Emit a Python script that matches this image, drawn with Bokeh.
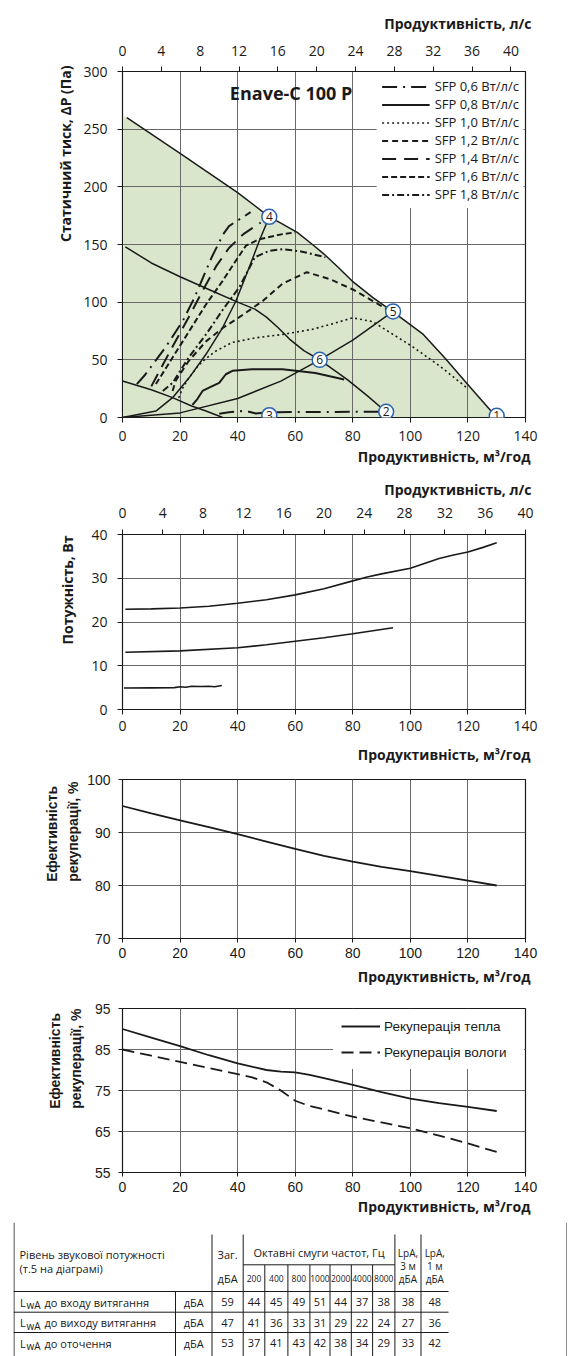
from bokeh.plotting import figure
from bokeh.models import Range1d, LinearAxis, Title, Legend, LegendItem, FixedTicker, Label
from bokeh.layouts import column, row
from bokeh.embed import file_html
from bokeh.resources import INLINE
from bokeh.core.properties import value

# ---------------- DATA ----------------
flow_ticks = [0, 20, 40, 60, 80, 100, 120, 140]
ls_ticks = [0, 4, 8, 12, 16, 20, 24, 28, 32, 36, 40]
pressure_ticks = [0, 50, 100, 150, 200, 250, 300]
power_ticks = [0, 10, 20, 30, 40]
eff_ticks = [70, 80, 90, 100]
rec_ticks = [55, 65, 75, 85, 95]

# chart 1: static pressure (Pa) vs flow (m3/h)
max_x = [0, 1.5, 20, 40, 51, 55, 60.7, 66, 70, 75, 79.7, 87, 94, 104.5, 112, 119.5, 130]
max_y = [262, 260, 229, 195, 174, 168.5, 160.5, 150, 141.7, 130, 118.5, 104, 91.6, 72, 51.5, 30, 0]
mid_x = [1, 10, 20, 30, 40, 46, 50, 54, 58, 63, 68.5, 78, 85, 91.5]
mid_y = [148, 134, 122, 111, 100, 94, 87, 78, 68, 58, 50, 33, 19, 5]
low_x = [0, 10, 17.4, 24, 29, 34.8]
low_y = [31.7, 24, 17.2, 10, 5.6, 0]
sys_a_x = [0, 11.6, 17.4, 23.2, 29, 34.8, 39.4, 44, 47.5, 51]
sys_a_y = [0, 5.6, 17.2, 34.6, 54.8, 78, 101, 130, 153, 174]
sys_b_x = [0, 20, 40, 55, 68.5, 80, 94]
sys_b_y = [0, 4, 16.5, 31.5, 50, 67, 92]
sfp06_x = [33.6, 37, 40.6, 44, 46.3, 51, 60, 70, 80, 91.5]
sfp06_y = [3.3, 4.5, 5.6, 5, 3.5, 4.5, 4.7, 4.7, 4.9, 5]
sfp08_x = [24.3, 26, 27.8, 31, 33.6, 35.9, 38.2, 45, 55.6, 67, 77]
sfp08_y = [11, 16, 23, 27, 30, 37.5, 40.5, 41.8, 41.8, 38.5, 33]
sfp10_x = [19.5, 21, 23, 26, 28, 32, 38, 46, 55.6, 66, 74, 80, 87, 94, 101, 110, 119.5]
sfp10_y = [17, 26, 34, 44, 49, 57, 65, 69, 72, 76.5, 82, 86.5, 83, 72, 61, 45, 26]
sfp12_x = [17.4, 18.5, 23, 29, 35, 40.6, 48.7, 55.6, 64, 72, 80, 87, 93]
sfp12_y = [23, 32, 49, 66, 78, 87, 101, 116, 126, 120, 111, 101, 92]
sfp14_x = [10, 16, 23, 28.5, 32.5, 37, 42, 48]
sfp14_y = [27, 55, 87, 113, 131, 147, 159, 169]
sfp16_x = [11.6, 17.4, 23.2, 29, 34.8, 39.4, 42.9, 47.5, 55.6, 60]
sfp16_y = [29, 52, 75, 98, 118.5, 136, 149, 154.6, 159, 160.5]
sfp18_x = [14, 17.4, 23, 29, 35, 40.6, 46, 51, 55.6, 62, 70.5]
sfp18_y = [23, 30, 52, 72, 94, 113, 139, 144.5, 146, 144, 139]
sfp18b_x = [5, 8, 15, 21, 25, 31, 35, 37, 44.5]
sfp18b_y = [29, 37.5, 61, 84, 104, 139, 159, 166, 178]
pt_x = [130, 91.6, 51, 51, 94, 68.5]
pt_y = [1.5, 5, 2, 174, 92, 50]
pt_lbl = ["1", "2", "3", "4", "5", "6"]
sfp_labels = ["SFP 0,6 Вт/л/с", "SFP 0,8 Вт/л/с", "SFP 1,0 Вт/л/с", "SFP 1,2 Вт/л/с",
              "SFP 1,4 Вт/л/с", "SFP 1,6 Вт/л/с", "SPF 1,8 Вт/л/с"]

# chart 2: power (W)
pw_a_x = [1, 10, 20, 30, 40, 50, 60, 70, 80, 85, 90, 100, 110, 115, 120, 125, 130]
pw_a_y = [22.9, 23, 23.2, 23.6, 24.3, 25.1, 26.2, 27.6, 29.4, 30.3, 31, 32.3, 34.5, 35.3, 36, 37, 38.1]
pw_b_x = [1, 20, 40, 50, 60, 70, 80, 94]
pw_b_y = [13.1, 13.4, 14.1, 14.8, 15.6, 16.4, 17.3, 18.7]
pw_c_x = [0.5, 10, 18, 20, 22, 24, 27, 30, 32, 34.5]
pw_c_y = [4.9, 4.95, 5.0, 5.2, 5.1, 5.3, 5.25, 5.3, 5.2, 5.5]

# chart 3: recovery efficiency (%)
eff_x = [0, 10, 20, 30, 40, 50, 60, 70, 80, 90, 100, 110, 120, 130]
eff_y = [95, 93.6, 92.3, 91, 89.7, 88.3, 86.9, 85.6, 84.5, 83.5, 82.7, 81.8, 80.9, 80]

# chart 4: heat / moisture recovery (%)
heat_x = [0, 10, 20, 30, 40, 50, 55, 60, 65, 70, 80, 90, 100, 110, 120, 130]
heat_y = [90, 87.9, 85.8, 83.6, 81.6, 80, 79.6, 79.4, 78.8, 78, 76.4, 74.6, 73, 71.9, 71, 70]
moist_x = [0, 10, 20, 30, 40, 45, 50, 55, 60, 65, 70, 80, 90, 100, 110, 120, 130]
moist_y = [85, 83.5, 82, 80.5, 79, 78.2, 77, 75, 72.5, 71.2, 70.4, 68.6, 67.2, 65.8, 64, 62.1, 60]
rec_labels = ["Рекуперація тепла", "Рекуперація вологи"]

# table
tbl_title = ["Рівень звукової потужності", "(т.5 на діаграмі)"]
tbl_rows = ["до входу витягання", "до виходу витягання", "до оточення"]
tbl_unit = "дБА"
tbl_total = [59, 47, 53]
tbl_bands = ["200", "400", "800", "1000", "2000", "4000", "8000"]
tbl_band_vals = [[44, 45, 49, 51, 44, 37, 38],
                 [41, 36, 33, 31, 29, 22, 24],
                 [37, 41, 43, 42, 38, 34, 29]]
tbl_lpa3 = [38, 27, 33]
tbl_lpa1 = [48, 36, 42]

# ---------------- STYLE ----------------
MY = "Open Sans"
AR = "Liberation Sans"
GRID = "#686868"
INK = "#1a1a1a"
GREEN = "#dae6cc"
BLUE = "#2a64b0"
FRAME_W = 403
PAGE_X0 = 13          # left edge of every figure on the page
FRAME_X0 = 122        # left edge of every chart frame on the page


def style_axis(ax, font, fsize, standoff, tick_out):
    ax.major_label_text_font = font
    ax.major_label_text_font_size = fsize
    ax.major_label_text_color = INK
    ax.axis_line_color = INK
    ax.major_tick_line_color = INK
    ax.major_tick_out = tick_out
    ax.major_tick_in = 0
    ax.minor_tick_line_color = None
    ax.major_label_standoff = standoff


def make_fig(fh, top, bottom, yr, yticks, font, fsize, xstand, ystand, tick_out):
    p = figure(frame_width=FRAME_W, frame_height=fh, min_border_left=FRAME_X0 - PAGE_X0,
               min_border_right=42, min_border_top=top, min_border_bottom=bottom,
               x_range=Range1d(0, 140), y_range=Range1d(*yr),
               output_backend="svg", toolbar_location=None)
    p.outline_line_color = INK
    p.outline_line_width = 1.2
    p.border_fill_color = "white"
    p.background_fill_color = "white"
    p.xaxis.ticker = FixedTicker(ticks=flow_ticks)
    p.yaxis.ticker = FixedTicker(ticks=yticks)
    p.xgrid.ticker = FixedTicker(ticks=flow_ticks)
    p.ygrid.ticker = FixedTicker(ticks=yticks)
    for g in (p.xgrid, p.ygrid):
        g.grid_line_color = GRID
        g.grid_line_width = 1
    style_axis(p.xaxis[0], font, fsize, xstand, tick_out)
    style_axis(p.yaxis[0], font, fsize, ystand, tick_out)
    return p


def page_borders(p, fig_top, fig_h, frame_top, fh, yr):
    """Thin vertical page-frame lines at the page's left and right edges (outside the frame)."""
    sx = FRAME_W / 140.0
    sy = fh / float(yr[1] - yr[0])
    yc = yr[0] + (frame_top + fh - (fig_top + fig_h / 2.0)) / sy
    for a in (13.5, 566.5):
        p.add_layout(Label(x=(a - FRAME_X0) / sx, y=yc, text=".", text_font_size="1px",
                           text_color=INK, text_align="center", text_baseline="middle",
                           background_fill_color=INK, border_line_color=INK,
                           border_line_width=1, padding=(0, int(fig_h / 2) + 2)))


def add_title(p, text, side, font, size, standoff, offset=0, lh=1.2):
    t = Title(text=text, align="right", text_font=font, text_font_style="bold",
              text_font_size=size, text_color=INK, standoff=standoff, offset=offset,
              text_line_height=lh)
    p.add_layout(t, side)


FLOW_LS = "Продуктивність, л/с"
FLOW_M3 = "Продуктивність, м³/год"

# ---------------- CHART 1 ----------------
p1 = make_fig(346, 71, 52, (0, 300), pressure_ticks, MY, "14px", 8, 10, 5)
p1.extra_x_ranges = {"ls": Range1d(0, 41.5)}
ax_top = LinearAxis(x_range_name="ls", ticker=FixedTicker(ticks=ls_ticks))
style_axis(ax_top, MY, "14px", 11, 5)
p1.add_layout(ax_top, "above")
add_title(p1, FLOW_LS, "above", MY, "14px", 20, offset=-6)
add_title(p1, FLOW_M3, "below", MY, "14px", 2, offset=-5)
add_title(p1, "Статичний тиск, ΔP (Па)", "left", MY, "14px", 12, offset=-6)
page_borders(p1, 0, 469, 71, 346, (0, 300))

p1.varea(x=max_x, y1=0, y2=max_y, fill_color=GREEN, level="image")
p1.line(max_x[1:], max_y[1:], line_color=INK, line_width=1.5)
p1.line(mid_x, mid_y, line_color=INK, line_width=1.5)
p1.line(low_x, low_y, line_color=INK, line_width=1.5)
p1.line(sys_a_x, sys_a_y, line_color=INK, line_width=1.5)
p1.line(sys_b_x, sys_b_y, line_color=INK, line_width=1.5)
r06 = p1.line(sfp06_x, sfp06_y, line_color=INK, line_width=2, line_dash="15 6 2 6")
r08 = p1.line(sfp08_x, sfp08_y, line_color=INK, line_width=2)
r10 = p1.line(sfp10_x, sfp10_y, line_color=INK, line_width=1.6, line_dash="2 3")
r12 = p1.line(sfp12_x, sfp12_y, line_color=INK, line_width=2, line_dash="6 4")
r14 = p1.line(sfp14_x, sfp14_y, line_color=INK, line_width=2, line_dash="14 8")
r16 = p1.line(sfp16_x, sfp16_y, line_color=INK, line_width=2, line_dash="6 3")
r18 = p1.line(sfp18_x, sfp18_y, line_color=INK, line_width=2, line_dash="7 3 2 3")
p1.line(sfp18b_x, sfp18b_y, line_color=INK, line_width=2, line_dash="15 6 2 6")

for xx, yy, tt in zip(pt_x, pt_y, pt_lbl):
    p1.add_layout(Label(x=xx, y=yy, text=tt, text_align="center", text_baseline="middle",
                        text_font=MY, text_font_size="12px", text_color=INK,
                        background_fill_color="white", border_line_color=BLUE,
                        border_line_width=1.5, border_radius=8, padding=(4, 3)))

p1.add_layout(Label(x=37.3, y=281, text="Enave-C 100 P", text_font=MY, text_font_style="bold",
                    text_font_size="18px", text_baseline="middle", text_color=INK))

leg1 = Legend(items=[LegendItem(label=l, renderers=[r]) for l, r in
                     zip(sfp_labels, [r06, r08, r10, r12, r14, r16, r18])],
              location="top_right", margin=1, padding=5, spacing=0,
              glyph_width=48, glyph_height=17, label_height=17, label_standoff=5,
              label_text_font=MY, label_text_font_size="13px", label_text_color=INK,
              border_line_alpha=0, background_fill_color="white", background_fill_alpha=1)
p1.add_layout(leg1)

# ---------------- CHART 2 ----------------
p2 = make_fig(175, 65, 63, (0, 40), power_ticks, MY, "14px", 6, 10, 5)
p2.extra_x_ranges = {"ls": Range1d(0, 40)}
ax_top2 = LinearAxis(x_range_name="ls", ticker=FixedTicker(ticks=ls_ticks))
style_axis(ax_top2, MY, "14px", 12, 5)
p2.add_layout(ax_top2, "above")
add_title(p2, FLOW_LS, "above", MY, "14px", 12, offset=-6)
add_title(p2, FLOW_M3, "below", MY, "14px", 19, offset=-5)
add_title(p2, "Потужність, Вт", "left", MY, "14px", 24, offset=1)
page_borders(p2, 469, 303, 534, 175, (0, 40))
p2.line(pw_a_x, pw_a_y, line_color=INK, line_width=1.6)
p2.line(pw_b_x, pw_b_y, line_color=INK, line_width=1.6)
p2.line(pw_c_x, pw_c_y, line_color=INK, line_width=1.6)

# ---------------- CHART 3 ----------------
p3 = make_fig(159, 6, 60, (70, 100), eff_ticks, AR, "14px", 5, 8, 4)
add_title(p3, FLOW_M3, "below", MY, "14px", 8, offset=-5)
add_title(p3, "Ефективність\nрекуперації, %", "left", AR, "14px", 7, offset=2, lh=1.3)
page_borders(p3, 772, 225, 778, 159, (70, 100))
p3.line(eff_x, eff_y, line_color=INK, line_width=1.8)

# ---------------- CHART 4 ----------------
p4 = make_fig(164, 10, 50, (55, 95), rec_ticks, AR, "14px", 5, 8, 4)
add_title(p4, FLOW_M3, "below", MY, "14px", 0, offset=-5)
add_title(p4, "Ефективність\nрекуперації, %", "left", AR, "14px", 15, offset=0, lh=1.3)
page_borders(p4, 997, 224, 1007, 164, (55, 95))
rh = p4.line(heat_x, heat_y, line_color=INK, line_width=1.8)
rm = p4.line(moist_x, moist_y, line_color=INK, line_width=1.8, line_dash="12 6")
leg4 = Legend(items=[LegendItem(label=rec_labels[0], renderers=[rh]),
                     LegendItem(label=rec_labels[1], renderers=[rm])],
              location="top_right", margin=1, padding=8, spacing=8,
              glyph_width=39, glyph_height=18, label_height=18, label_standoff=4, label_width=132,
              label_text_font=AR, label_text_font_size="13.5px", label_text_color=INK,
              border_line_alpha=0, background_fill_color="white", background_fill_alpha=1)
p4.add_layout(leg4)

# ---------------- TABLE ----------------
pt = figure(width=554, height=135, x_range=Range1d(13, 567), y_range=Range1d(1356, 1221),
            min_border=0, x_axis_location=None, y_axis_location=None,
            output_backend="svg", toolbar_location=None)
pt.outline_line_color = None
pt.grid.visible = False
col_edges = [13, 175, 211.5, 242.7, 264.3, 287.4, 309.4, 329.5, 350.8, 372.1, 394.4, 420.5, 448]
row_lines = [1290, 1310.7, 1331]
row_mid = [1300.5, 1321, 1341.5]
TF = value(MY)
TS = "11px"

vx0, vy0, vx1, vy1 = [], [], [], []
for x in [col_edges[2], col_edges[3], col_edges[10], col_edges[11]]:
    vx0.append(x); vy0.append(1233); vx1.append(x); vy1.append(1356)
for x in col_edges[4:10]:
    vx0.append(x); vy0.append(1263.3); vx1.append(x); vy1.append(1356)
vx0.append(col_edges[1]); vy0.append(1290); vx1.append(col_edges[1]); vy1.append(1356)
for y in row_lines:
    vx0.append(col_edges[0]); vy0.append(y); vx1.append(col_edges[-1]); vy1.append(y)
vx0.append(col_edges[3]); vy0.append(1263.3); vx1.append(col_edges[10]); vy1.append(1263.3)
pt.segment(vx0, vy0, vx1, vy1, line_color=INK, line_width=1)
# page frame lines
pt.segment([13.5, 566.5], [1221, 1221], [13.5, 566.5], [1356, 1356], line_color=INK, line_width=1)


def ctr(i):
    return (col_edges[i] + col_edges[i + 1]) / 2


def draw_texts(items, size, align="center"):
    pt.text([a for a, b, c in items], [b for a, b, c in items], text=[c for a, b, c in items],
            text_align=align, text_baseline="middle", text_font=TF, text_font_size=size,
            text_color=INK)


left_items = [(19, 1253, tbl_title[0]), (19, 1267, tbl_title[1])]
center_items = [(ctr(2), 1253, "Заг."),
                ((col_edges[3] + col_edges[10]) / 2, 1251, "Октавні смуги частот, Гц"),
                (ctr(2), 1277, tbl_unit)]
band_items = [(ctr(3 + i), 1277, b) for i, b in enumerate(tbl_bands)]
lpa_items = []
for c, m in [(10, "3 м"), (11, "1 м")]:
    lpa_items += [(ctr(c), 1251, "LpA,"), (ctr(c), 1264, m), (ctr(c), 1277, tbl_unit)]
for r in range(3):
    y = row_mid[r]
    left_items.append((44, y, tbl_rows[r]))
    center_items.append((ctr(1), y, tbl_unit))
    center_items.append((ctr(2), y, str(tbl_total[r])))
    for i, v in enumerate(tbl_band_vals[r]):
        center_items.append((ctr(3 + i), y, str(v)))
    center_items.append((ctr(10), y, str(tbl_lpa3[r])))
    center_items.append((ctr(11), y, str(tbl_lpa1[r])))

draw_texts(left_items, TS, "left")
draw_texts(center_items, TS)
draw_texts(band_items, "8.5px")
draw_texts(lpa_items, "10px")
pt.text([19.5] * 3, row_mid, text=["L"] * 3, text_baseline="middle",
        text_font=TF, text_font_size=TS, text_color=INK)
pt.text([26] * 3, [y + 3 for y in row_mid], text=["wA"] * 3, text_baseline="middle",
        text_font=TF, text_font_size="10px", text_color=INK)

layout = column(p1, p2, p3, p4, row(pt), spacing=0, margin=(0, 0, 0, PAGE_X0))

open("out.html", "w").write(file_html(layout, INLINE))
